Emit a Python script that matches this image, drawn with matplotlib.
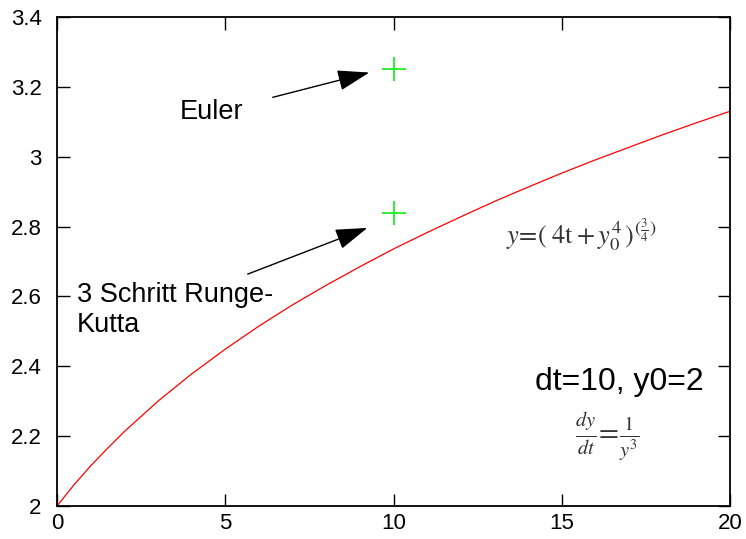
import matplotlib
matplotlib.use("Agg")
import matplotlib.pyplot as plt

plt.rcParams['font.family'] = ['Liberation Sans', 'DejaVu Sans']
plt.rcParams['mathtext.fontset'] = 'stix'

# exact solution
t_vals = [0, 0.5, 1, 1.5, 2, 3, 4, 5, 6, 7, 8, 9, 10, 11, 12, 13, 14, 15, 16, 17, 18, 19, 20]
y_vals = [2.0, 2.060, 2.115, 2.165, 2.213, 2.300, 2.378, 2.449, 2.515, 2.576, 2.632, 2.685,
          2.736, 2.783, 2.828, 2.872, 2.913, 2.953, 2.991, 3.027, 3.063, 3.097, 3.130]

# single step results at t=10
step_t = [10, 10]
step_y = [3.25, 2.84]

x_ticks = [0, 5, 10, 15, 20]
y_ticks = [2, 2.2, 2.4, 2.6, 2.8, 3, 3.2, 3.4]
y_tick_labels = ['2', '2.2', '2.4', '2.6', '2.8', '3', '3.2', '3.4']

fig = plt.figure(figsize=(7.46, 5.39), dpi=100)
ax = fig.add_axes([57/746, 33/539, 673/746, 489/539])

ax.plot(t_vals, y_vals, color='red', lw=0.9)
ax.plot(step_t, step_y, linestyle='none', marker='+', color='#22ee22',
        markersize=17, markeredgewidth=1.3)

ax.set_xlim(0, 20)
ax.set_ylim(2, 3.4)
ax.set_xticks(x_ticks)
ax.set_yticks(y_ticks)
ax.set_yticklabels(y_tick_labels)
ax.tick_params(direction='in', top=True, right=True, length=9, width=1,
               labelsize=16)
ax.tick_params(axis='y', pad=11)
ax.tick_params(axis='x', pad=5)
for s in ax.spines.values():
    s.set_linewidth(1.3)

arrow = dict(arrowstyle='-|>,head_length=2.0,head_width=0.65', color='black', lw=1)
ax.annotate('', xy=(9.36, 3.243), xytext=(6.33, 3.168), arrowprops=arrow)
ax.annotate('', xy=(9.30, 2.799), xytext=(5.59, 2.661), arrowprops=arrow)

ax.text(4.6, 3.128, 'Euler', fontsize=19.5, ha='center', va='center')
ax.text(0.6, 2.56, '3 Schritt Runge-\nKutta', fontsize=19.5, ha='left', va='center',
        linespacing=1.2)
ax.text(13.35, 2.775, r'$y\!=\!(\;4\mathrm{t}+y_0^4\,)^{(\frac{3}{4})}$', fontsize=19,
        ha='left', va='center', color='#333333')
ax.text(14.2, 2.355, 'dt=10, y0=2', fontsize=23, ha='left', va='center')
ax.text(16.35, 2.198, r'$\frac{dy}{dt}\!=\!\frac{1}{y^3}$', fontsize=21,
        ha='center', va='center', color='#333333')

fig.savefig('out.png', dpi=100)
